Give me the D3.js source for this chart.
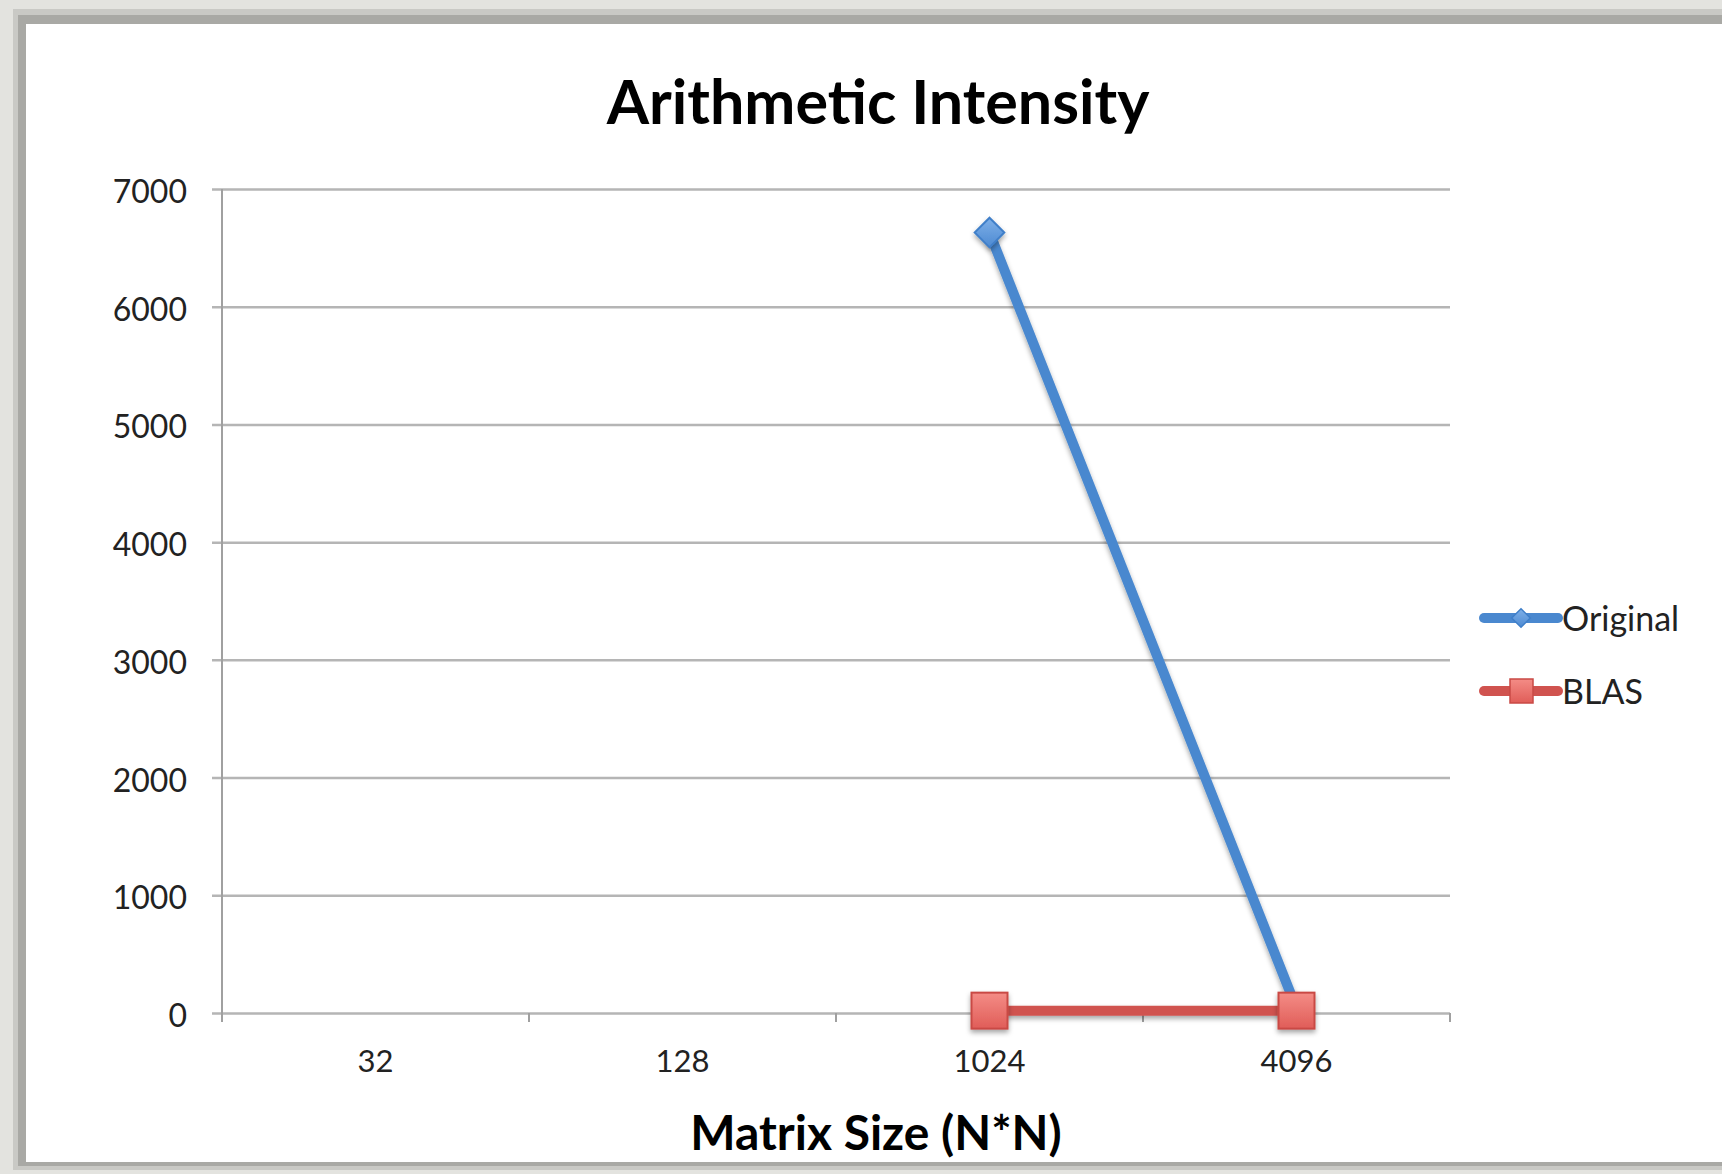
<!DOCTYPE html>
<html>
<head>
<meta charset="utf-8">
<script src="https://cdn.jsdelivr.net/npm/d3@7"></script>
<style>
  body { margin: 0; background: #e3e3df; }
  text { font-family: Lato, "Open Sans", sans-serif; }
</style>
</head>
<body>
<div class="chart"></div>
<script>
const sizes = ['32', '128', '1024', '4096'];
const original = [null, null, 6630, 40];
const blas = [null, null, 20, 20];
const yTicks = [0, 1000, 2000, 3000, 4000, 5000, 6000, 7000];
const seriesNames = ['Original', 'BLAS'];

const W = 1722, H = 1174;
const margin = {top: 189, left: 222, bottom: 161, right: 272};
const width = W - margin.left - margin.right;
const height = H - margin.top - margin.bottom;

const root = d3.select('.chart').append('svg')
    .attr('width', W)
    .attr('height', H);

// frame of the slide
root.append('rect')
    .attr('x', 13).attr('y', 9)
    .attr('width', W).attr('height', H - 9 - 4)
    .attr('fill', '#c9c9c5');
root.append('rect')
    .attr('x', 18).attr('y', 15)
    .attr('width', W).attr('height', H - 15 - 8)
    .attr('fill', '#a9a9a5');
root.append('rect')
    .attr('x', 26).attr('y', 24)
    .attr('width', W).attr('height', H - 24 - 12)
    .attr('fill', 'white');

const defs = root.append('defs');
const shadow = defs.append('filter').attr('id', 'shadow')
    .attr('filterUnits', 'userSpaceOnUse')
    .attr('x', -300).attr('y', -300).attr('width', W + 600).attr('height', H + 600);
shadow.append('feDropShadow')
    .attr('dx', 0).attr('dy', 3).attr('stdDeviation', 2.5)
    .attr('flood-color', '#000').attr('flood-opacity', 0.35);

const redGrad = defs.append('linearGradient').attr('id', 'redfill')
    .attr('x1', 0).attr('y1', 0).attr('x2', 0).attr('y2', 1);
redGrad.append('stop').attr('offset', '0%').attr('stop-color', '#f48c86');
redGrad.append('stop').attr('offset', '100%').attr('stop-color', '#e05d58');

const blueGrad = defs.append('linearGradient').attr('id', 'bluefill')
    .attr('x1', 0).attr('y1', 0).attr('x2', 0).attr('y2', 1);
blueGrad.append('stop').attr('offset', '0%').attr('stop-color', '#7fb0e8');
blueGrad.append('stop').attr('offset', '100%').attr('stop-color', '#4d8ad2');

let svg = root.append('g')
    .attr('transform', 'translate(' + margin.left + ',' + margin.top + ')');

const xScale = d3.scaleBand()
    .domain(sizes)
    .range([0, width]);

const yScale = d3.scaleLinear()
    .domain([0, 7000])
    .range([height, 0]);

// gridlines + y axis
const yAxis = d3.axisLeft(yScale)
    .tickValues(yTicks)
    .tickSize(-width)
    .tickPadding(35)
    .tickFormat(d3.format('d'));

let Y = svg.append('g')
    .attr('class', 'axis y-axis')
    .call(yAxis);

Y.select('.domain').remove();
Y.selectAll('.tick line')
    .attr('x1', -10)
    .attr('stroke', '#b5b5b5')
    .attr('stroke-width', 2.5);
Y.selectAll('.tick text')
    .attr('font-size', 32)
    .attr('fill', '#222')
    .attr('dy', '0.42em');

svg.append('line')
    .attr('x1', 0).attr('x2', 0)
    .attr('y1', 0).attr('y2', height + 9)
    .attr('stroke', '#a0a0a0')
    .attr('stroke-width', 2);

// x axis
const xAxis = d3.axisBottom(xScale)
    .tickSize(0)
    .tickPadding(37);

let X = svg.append('g')
    .attr('class', 'axis x-axis')
    .attr('transform', `translate(0, ${height})`)
    .call(xAxis);

X.select('.domain').remove();
X.selectAll('.tick text')
    .attr('font-size', 31)
    .attr('fill', '#222');

X.selectAll('.boundary')
    .data(sizes.slice(1).concat(['end']))
    .enter()
    .append('line')
    .attr('x1', (d, i) => xScale.step() * (i + 1))
    .attr('x2', (d, i) => xScale.step() * (i + 1))
    .attr('y1', 0).attr('y2', 9)
    .attr('stroke', '#a0a0a0')
    .attr('stroke-width', 2);

// titles
root.append('text')
    .attr('x', 878)
    .attr('y', 124)
    .attr('text-anchor', 'middle')
    .attr('font-size', 61)
    .attr('font-weight', 'bold')
    .attr('fill', '#000')
    .text('Arithmetic Intensity');

root.append('text')
    .attr('x', 876)
    .attr('y', 1150)
    .attr('text-anchor', 'middle')
    .attr('font-size', 48)
    .attr('font-weight', 'bold')
    .attr('fill', '#000')
    .text('Matrix Size (N*N)');

// series
const cx = i => xScale(sizes[i]) + xScale.bandwidth() / 2;

const line = d3.line()
    .defined(d => d != null)
    .x((d, i) => cx(i))
    .y(d => yScale(d));

const diamond = d3.symbol().type(d3.symbolDiamond2).size(560);

svg.append('path')
    .datum(original)
    .attr('d', line)
    .attr('fill', 'none')
    .attr('stroke', '#4a88cf')
    .attr('stroke-width', 10)
    .attr('stroke-linejoin', 'round')
    .attr('filter', 'url(#shadow)');

svg.append('g')
    .selectAll('path')
    .data(original.map((v, i) => ({v, i})).filter(d => d.v != null))
    .enter()
    .append('path')
    .attr('d', diamond)
    .attr('transform', d => `translate(${cx(d.i)},${yScale(d.v)})`)
    .attr('fill', 'url(#bluefill)')
    .attr('stroke', '#3f7fc9')
    .attr('stroke-width', 2)
    .attr('filter', 'url(#shadow)');

svg.append('path')
    .datum(blas)
    .attr('d', line)
    .attr('fill', 'none')
    .attr('stroke', '#d0534f')
    .attr('stroke-width', 10)
    .attr('filter', 'url(#shadow)');

svg.append('g')
    .selectAll('rect')
    .data(blas.map((v, i) => ({v, i})).filter(d => d.v != null))
    .enter()
    .append('rect')
    .attr('x', d => cx(d.i) - 18)
    .attr('y', d => yScale(d.v) - 18)
    .attr('width', 36)
    .attr('height', 36)
    .attr('fill', 'url(#redfill)')
    .attr('stroke', '#c94a45')
    .attr('stroke-width', 2)
    .attr('filter', 'url(#shadow)');

// legend
const legendColors = ['#4a88cf', '#d0534f'];
let legend = root.append('g')
    .selectAll('g')
    .data(seriesNames)
    .enter()
    .append('g')
    .attr('transform', (d, i) => `translate(1484, ${618 + i * 73})`);

legend.append('line')
    .attr('x1', 0).attr('x2', 74)
    .attr('stroke', (d, i) => legendColors[i])
    .attr('stroke-width', 10)
    .attr('stroke-linecap', 'round');

legend.filter((d, i) => i === 0)
    .append('path')
    .attr('d', d3.symbol().type(d3.symbolDiamond2).size(220))
    .attr('transform', 'translate(37,0)')
    .attr('fill', 'url(#bluefill)')
    .attr('stroke', '#3f7fc9')
    .attr('stroke-width', 1.5);

legend.filter((d, i) => i === 1)
    .append('rect')
    .attr('x', 26).attr('y', -12)
    .attr('width', 23).attr('height', 24)
    .attr('fill', 'url(#redfill)')
    .attr('stroke', '#c94a45')
    .attr('stroke-width', 1.5);

legend.append('text')
    .attr('x', 78)
    .attr('dy', '0.38em')
    .attr('font-size', 34)
    .attr('fill', '#222')
    .text(d => d);
</script>
</body>
</html>
